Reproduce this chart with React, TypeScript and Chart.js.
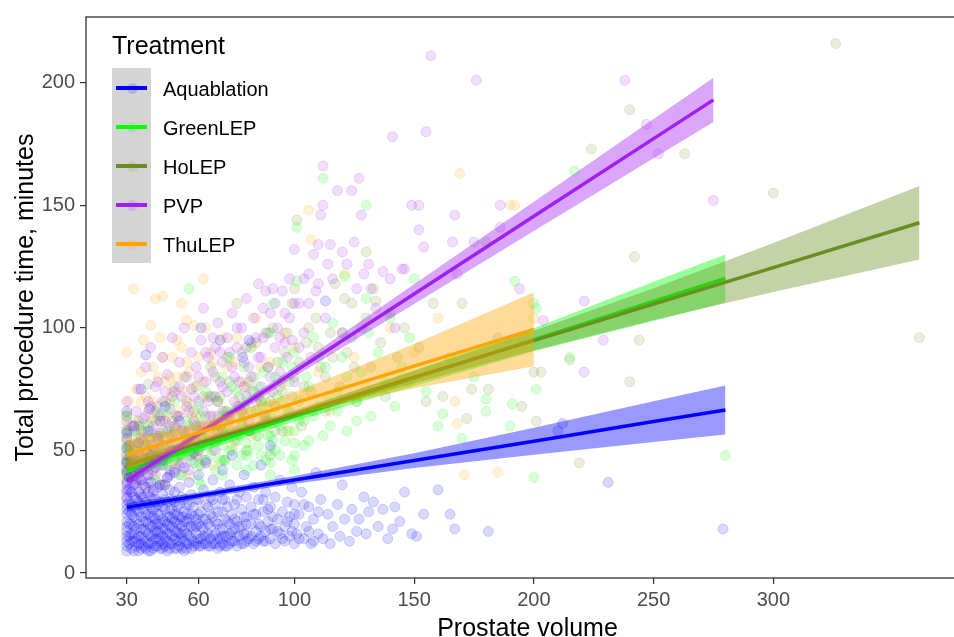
import React, { useEffect, useRef } from "react";
import { Chart, registerables } from "chart.js";
Chart.register(...registerables);

const treatments = ["Aquablation", "GreenLEP", "HoLEP", "PVP", "ThuLEP"];
const lineColors = ["#0000FF", "#00FF00", "#6B8E23", "#A020F0", "#FFA500"];
const rgbs = ["0,0,255", "0,255,0", "107,142,35", "160,32,240", "255,165,0"];

const xTicks = [30, 60, 100, 150, 200, 250, 300];
const yTicks = [0, 50, 100, 150, 200];

const aquablationPoints = [
  [30,9],[30,11],[30,13],[30,15],[30,17],[30,19],[30,21],[30,24],[30,26],[30,28],[30,31],[30,34],[30,37],[30,41],[30,45],[30,51],[30,57],[30,66],
  [31,12],[31,20],[31,29],[31,39],[32,10],[32,16],[32,24],[32,33],[32,47],[33,13],[33,19],[33,27],[33,36],[33,60],[34,11],[34,22],[34,30],[34,43],[35,9],[35,15],[35,25],[35,33],[35,53],[36,12],[36,18],[36,28],[36,38],[36,75],[37,14],[37,21],[37,31],[37,44],[38,10],[38,17],[38,24],[38,35],[38,89],[39,12],[39,20],[39,28],[39,40],[39,58],[39.5,67],[40,9],[40,15],[40,23],[40,31],[40,37],[40,48],
  [41,13],[41,19],[41,26],[41,34],[42,11],[42,17],[42,22],[42,30],[42,43],[43,14],[43,20],[43,28],[43,55],[44,10],[44,16],[44,24],[44,36],[44,62],[45,12],[45,18],[45,27],[45,32],[45,46],[46,14],[46,21],[46,30],[46,68],[47,9],[47,16],[47,23],[47,39],[48,12],[48,19],[48,26],[48,34],[49,15],[49,22],[49,30],[49,50],[50,10],[50,17],[50,24],[50,29],[50,41],
  [51,13],[51,20],[51,27],[52,11],[52,16],[52,23],[52,35],[52,62],[53,14],[53,19],[53,31],[54,9],[54,17],[54,25],[54,43],[55,12],[55,21],[55,28],[56,15],[56,19],[56,37],[57,10],[57,24],[57,32],[58,13],[58,18],[58,27],[58,49],[59,16],[59,22],[60,11],[60,20],[60,30],[60,40],[61,100],
  [61,14],[61,25],[62,12],[62,18],[62,34],[63,15],[63,22],[63,45],[64,11],[64,27],[65,14],[65,19],[65,31],[66,12],[66,23],[66,38],[67,16],[67,28],[68,10],[68,20],[68,55],[69,14],[69,33],[69,95],[70,12],[70,18],[70,25],[70,42],
  [71,15],[71,30],[72,11],[72,21],[73,16],[73,36],[74,13],[74,24],[74,48],[75,18],[75,28],[76,11],[76,21],[77,15],[77,33],[78,19],[78,26],[78.5,88],[79,12],[79,40],[80,16],[80,23],[80,31],[81,14],[81,58],[81,95],[82,20],[82,27],[83,12],[83,35],[84,17],[84,24],[85,14],[85,30],[86,19],[86,44],[87,13],[87,25],[88,17],[88,33],[89,21],[90,14],[90,27],[90,52],[91,18],[92,12],[92,31],[93,22],[94,16],[94,38],[95,25],[96,13],[96,19],[97,29],[98,15],[98,23],[99,35],[100,12],[100,20],[100,28],
  [101,16],[102,24],[103,33],[104,14],[105,19],[106,27],[107,12],[108,22],[109,41],[110,16],[111,30],[112,14],[113,111],[114,24],[115,12],[116,19],[118,28],[119,15],[120,36],[121,22],[123,13],[124,26],[126,17],[127,22],[129,31],[130,16],[131,25],[133,29],[135,19],[137,26],[139,14],[141,18],[142,27],[144,21],[146,33],[149,16],[151,15],[154,24],[160,34],[165,24],[167,18],[181,17],[210,58],[212,61],[231,37],[279,18],
  [31,15],[31,25],[31,34],[32,13],[32,20],[32,28],[33,9],[33,16],[33,23],[33,31],[34,14],[34,18],[34,26],[34,37],[35,12],[35,20],[35,29],[35,41],[36,10],[36,15],[36,23],[36,32],[37,11],[37,18],[37,26],[37,36],[38,13],[38,21],[38,29],[39,9],[39,16],[39,24],[39,33],[40,12],[40,19],[40,27],[41,10],[41,16],[41,23],[41,30],[42,14],[42,20],[42,27],[43,11],[43,17],[43,24],[43,35],[44,13],[44,20],[44,29],[45,10],[45,15],[45,22],[46,11],[46,18],[46,26],[46,36],[47,13],[47,20],[47,29],[48,10],[48,16],[48,23],[48,40],[49,12],[49,19],[49,26],[50,14],[50,21],[50,33],
  [51,10],[51,17],[51,24],[52,13],[52,20],[52,28],[53,10],[53,16],[53,23],[54,13],[54,21],[54,30],[55,10],[55,16],[55,24],[56,12],[56,22],[56,28],[57,14],[57,19],[58,11],[58,23],[59,12],[59,19],[59,30],[60,14],[60,24],[61,11],[61,19],[62,15],[62,22],[63,12],[63,28],[64,16],[64,20],[65,11],[65,24],[66,15],[66,30],[67,12],[67,21],[68,14],[68,25],[69,11],[69,18],[70,15],[70,30],
  [71,11],[71,22],[72,15],[72,27],[73,12],[73,20],[74,17],[75,13],[75,22],[76,15],[76,30],[77,19],[78,12],[79,16],[79,23],[80,13],[80,20],[82,15],[83,24],[84,13],[85,20],[86,15],[87,30],[88,13],[89,26],[90,18],[91,23],[93,17],[95,14],[97,21],[99,17],[100,24],[102,14],[104,28],[106,17],[108,13],[110,25]
];

const greenLEPPoints = [
  [30,40],[30,46],[30,52],[30,58],[30,64],[31,44],[33,50],[35,42],[36,60],[38,47],[40,55],[42,38],[43,65],[45,50],[47,44],[48,58],[50,70],[52,48],[53,40],[55,62],[56,116],[57,52],[58,45],
  [60,38],[60,44],[60,50],[60,56],[60,68],[61,36],[62,55],[63,74],[65,48],[66,60],[67,42],[68,70],
  [70,40],[70,46],[70,52],[70,58],[70,64],[70,80],[71,46],[72,58],[73,88],[74,50],[75,66],[76,44],[76,74],[77,56],[78,62],[79,84],
  [80,42],[80,48],[80,53],[80,59],[80,70],[81,58],[82,92],[83,44],[84,66],[85,76],[85,52],[86,60],[87,82],[88,46],[88,70],[89,56],
  [90,40],[90,45],[90,50],[90,56],[90,64],[90,98],[91,110],[92,50],[93,72],[94,60],[95,86],[96,54],[97,66],[98,78],[99,46],
  [100,42],[100,48],[100,53],[100,58],[100,90],[101,119],[101,141],[102,70],[104,62],[105,80],[106,54],[108,96],[110,68],[112,161],[113,84],[115,60],[116,102],[118,74],[120,88],[121,121],[122,58],[124,96],[126,70],[128,82],[130,150],[130,112],[132,64],[135,90],[138,78],[140,104],[142,68],[145,84],[148,96],[150,120],
  [155,74],[160,60],[162,65],[165,88],[170,55],[175,80],[180,66],[180,71],[190,60],[191,69],[192,119],[200,39],[200,110],[201,75],[201,108],[215,88],[217,164],[280,48],
  [31,50],[32,46],[34,56],[36,44],[37,52],[39,60],[41,48],[44,56],[46,44],[47,66],[49,52],[51,46],[54,56],[56,48],[58,60],[61,64],[62,46],[64,52],[66,72],[67,54],[69,46],[72,66],[73,50],[74,76],[76,54],[78,48],[79,68],[81,50],[82,74],[84,56],[86,48],[87,68],[89,62],[91,54],[92,80],[94,48],[95,70],[97,58],[99,84],[102,62],[104,52],[106,76],[108,64],[110,88],[112,56],[114,72],[118,66],[122,80],[126,62],[131,98]
];

const hoLEPPoints = [
  [30,38],[30,46],[30,54],[30,64],[31,42],[33,48],[35,40],[36,58],[38,52],[39,77],[40,44],[42,62],[44,50],[45,36],[46,70],[48,56],[50,46],[51,64],[52,40],[54,80],[55,54],[57,48],[58,66],[60,60],[61,44],[62,72],[64,56],
  [66,50],[67,80],[68,64],[70,58],[71,46],[72,88],[73,62],[75,54],[76,110],[77,72],[78,60],[80,50],[81,78],[82,66],[84,94],[85,56],[86,70],[88,62],[89,84],[90,48],[91,100],[92,68],[94,76],[95,58],[96,90],[98,66],[99,110],[100,116],[100,80],
  [101,144],[103,60],[105,94],[107,74],[109,104],[111,84],[113,66],[115,98],[117,118],[119,76],[121,112],[122,90],[124,110],[126,70],[128,100],[130,131],[132,84],[133,116],[134,111],[136,94],[138,72],[140,106],[143,88],[146,100],[148,78],[152,92],[155,70],[158,110],
  [162,72],[170,110],[172,63],[174,75],[180,135],[181,75],[185,96],[195,68],[200,82],[203,82],[201,62],[215,87],[219,45],[224,173],[240,78],[240,189],[242,129],[244,95],[263,171],[300,155],[326,216],[361,96],
  [30,42],[30,50],[31,58],[32,44],[34,52],[35,62],[37,46],[39,56],[41,50],[43,68],[45,58],[47,48],[49,62],[50,76],[52,58],[53,48],[55,70],[56,60],[58,52],[59,76],[61,56],[63,64],[65,84],[66,60],[68,54],[69,72],[71,66],[73,78],[74,58],[76,68],[78,90],[79,64],[81,58],[83,80],[85,72],[87,64],[88,98],[90,70],[92,58],[93,86],[95,74],[97,98],[99,72],[102,86],[104,76],[106,100],[108,66],[110,92],[113,80],[116,88],[120,98],[125,84],[130,104]
];

const pvpPoints = [
  [30,30],[30,36],[30,42],[30,48],[30,55],[30,62],[30,70],[31,39],[31,52],
  [32,33],[32,45],[33,58],[33,40],[34,36],[34,66],[35,48],[35,75],[36,31],[36,55],[37,42],[37,63],[38,50],[38,84],[39,37],[39,70],[40,45],[40,58],[40,92],[41,33],[41,52],[42,66],[42,40],[43,48],[43,78],[44,57],[44,36],[45,44],[45,70],[45,88],[46,52],[46,62],[47,39],[47,81],[48,48],[48,67],[49,56],[49,96],[50,42],[50,74],[50,60],
  [51,50],[52,64],[52,86],[53,45],[53,72],[54,58],[54,100],[55,52],[55,80],[56,66],[56,42],[57,75],[57,90],[58,55],[58,62],[59,48],[59,84],[60,70],[60,58],[61,95],[61,52],[62,66],[62,108],[63,78],[63,46],[64,60],[64,88],[65,72],[65,54],[66,82],[66,64],[67,92],[67,50],[68,70],[68,102],[69,60],[69,78],[70,86],[70,66],
  [71,56],[72,74],[72,96],[73,64],[74,84],[74,106],[75,70],[76,58],[76,92],[77,78],[78,100],[78,66],[79,86],[80,72],[80,112],[81,62],[82,94],[82,80],[83,104],[84,70],[85,88],[85,118],[86,76],[87,96],[88,115],[88,64],[89,84],[90,106],[91,116],[91,74],[92,92],[93,100],[94,82],[95,115],[96,106],[97,88],[98,120],[99,95],[100,132],[100,78],
  [102,110],[104,98],[106,122],[107,88],[109,115],[110,134],[111,146],[112,150],[112,166],[113,104],[114,126],[115,134],[116,120],[118,156],[120,131],[120,98],[122,126],[124,156],[125,135],[126,116],[127,161],[128,146],[129,122],[131,126],[132,116],[134,108],[137,123],[140,120],[141,178],[142,100],[145,124],[146,124],[149,150],[152,150],[152,140],[155,180],[154,133],
  [157,211],[166,135],[167,146],[168,122],[175,135],[176,201],[186,150],[186,141],[194,116],[204,103],[221,111],[221,82],[229,95],[238,201],[247,183],[252,171],[275,152],
  [30,33],[30,45],[30,58],[31,47],[32,40],[32,60],[33,52],[34,44],[35,38],[35,60],[36,48],[37,54],[38,40],[38,64],[39,46],[40,52],[40,68],[41,42],[41,60],[42,50],[42,76],[43,56],[44,44],[44,64],[45,52],[46,46],[46,74],[47,58],[48,42],[48,60],[49,50],[49,72],[50,54],[51,64],[52,44],[52,76],[53,58],[54,50],[55,68],[56,58],[57,46],[58,72],[59,60],[60,50],[60,80],[62,60],[63,90],[64,70],[65,64],[66,96],[67,72],[68,58],[69,90],[70,76],[72,64],[73,90],[75,80],[76,100],[77,68],[79,76],[80,92],[81,84],[83,74],[84,96],[86,88],[87,108],[89,98],[90,80],[92,110],[94,96],[96,94],[98,104],[100,110],[102,92],[104,120],[106,110],[108,130],[110,118]
];

const thuLEPPoints = [
  [30,40],[30,48],[30,55],[30,65],[30,90],[31,44],[31,52],
  [33,116],[33,60],[34,75],[34,38],[35,50],[36,70],[36,44],[37,95],[37,58],[38,35],[39,66],[40,48],[41,70],[40,101],[41,40],[42,112],[42,56],[43,80],[44,46],[45,62],[45,88],[45,113],[46,36],[47,54],[48,80],[48,70],[49,88],[50,44],[51,95],[51,60],[52,50],[53,110],[54,74],[55,86],[55,103],[56,40],[56,69],[57,56],[58,101],[59,64],[60,48],[62,120],[62,78],
  [64,58],[65,90],[66,44],[68,70],[70,62],[72,84],[74,52],[76,96],[78,66],[80,76],[82,56],[84,104],[86,70],[88,60],[90,86],[92,68],[95,78],[98,58],[100,92],[104,72],[106,148],[107,136],[110,82],
  [115,66],[121,122],[125,88],[130,76],[140,100],[145,80],[150,90],[160,104],[167,70],[168,61],[169,163],[171,40],[185,41],[190,150],[192,150],[200,104],
  [30,44],[30,60],[31,70],[32,52],[33,46],[34,62],[35,56],[36,82],[37,48],[38,72],[39,54],[40,62],[41,84],[42,46],[43,64],[44,96],[45,54],[46,78],[47,64],[48,50],[49,74],[50,58],[51,80],[52,66],[53,92],[54,52],[56,82],[57,64],[58,76],[60,88],[61,60],[63,100],[64,72],[66,86],[68,58],[70,96],[72,66],[75,86],[78,78],[82,92],[86,84],[90,74],[96,98]
];

// fitted lines and 95% bands
const aquablationFitX = [30, 60, 100, 150, 200, 250, 280];
const aquablationFit = [26.8, 31.6, 38, 45.9, 53.8, 61.8, 66.5];
const aquablationLower = [25.0, 30.3, 36.4, 42.9, 48.3, 53.5, 56.5];
const aquablationUpper = [28.6, 32.9, 39.6, 48.9, 59.3, 70.1, 76.5];

const greenLEPFitX = [30, 60, 100, 150, 200, 250, 280];
const greenLEPFit = [41.8, 51.2, 63.8, 79.5, 95.2, 110.8, 120.2];
const greenLEPLower = [38.3, 49.2, 61.8, 76.3, 90.5, 102.8, 110.5];
const greenLEPUpper = [45.3, 53.2, 65.8, 82.7, 99.9, 118.8, 129.9];

const hoLEPFitX = [30, 60, 100, 150, 200, 250, 300, 361];
const hoLEPFit = [44, 53, 64.9, 79.9, 94.8, 109.7, 124.6, 142.9];
const hoLEPLower = [41.5, 51.5, 63.4, 77.4, 90.8, 103.2, 114.6, 127.9];
const hoLEPUpper = [46.5, 54.5, 66.4, 82.4, 98.8, 116.2, 134.6, 157.9];

const pvpFitX = [30, 60, 100, 150, 200, 250, 275];
const pvpFit = [37.7, 56.7, 82.1, 113.8, 145.5, 177.2, 193];
const pvpLower = [35.2, 55.2, 80.1, 109.8, 139.5, 169.2, 184];
const pvpUpper = [40.2, 58.2, 84.1, 117.8, 151.5, 185.2, 202];

const thuLEPFitX = [30, 60, 100, 150, 200];
const thuLEPFit = [48.3, 57.3, 69.3, 84.4, 99.4];
const thuLEPLower = [42.3, 53.8, 64.8, 75.4, 84.4];
const thuLEPUpper = [54.3, 60.8, 73.8, 93.4, 114.4];

const groupPoints = [aquablationPoints, greenLEPPoints, hoLEPPoints, pvpPoints, thuLEPPoints];
const groupFitX = [aquablationFitX, greenLEPFitX, hoLEPFitX, pvpFitX, thuLEPFitX];
const groupFit = [aquablationFit, greenLEPFit, hoLEPFit, pvpFit, thuLEPFit];
const groupLower = [aquablationLower, greenLEPLower, hoLEPLower, pvpLower, thuLEPLower];
const groupUpper = [aquablationUpper, greenLEPUpper, hoLEPUpper, pvpUpper, thuLEPUpper];

const FONT = '"Liberation Sans", Arial, Helvetica, sans-serif';

const panelBorder = {
  id: "panelBorder",
  afterDraw(chart: any) {
    const { ctx, chartArea } = chart;
    const { left, top, right, bottom } = chartArea;
    ctx.save();
    ctx.strokeStyle = "#333333";
    ctx.lineWidth = 1.3;
    ctx.strokeRect(left, top, right - left, bottom - top);
    ctx.restore();
  },
};

export default function App() {
  const ref = useRef<HTMLCanvasElement | null>(null);

  useEffect(() => {
    if (!ref.current) return;
    const datasets: any[] = [];
    treatments.forEach((t, g) => {
      datasets.push({
        type: "line",
        label: t,
        data: groupPoints[g].map(([x, y]) => ({ x, y })),
        showLine: false,
        pointRadius: 5,
        pointHoverRadius: 5,
        pointBackgroundColor: `rgba(${rgbs[g]},0.15)`,
        pointBorderColor: `rgba(${rgbs[g]},0.16)`,
        pointBorderWidth: 1,
        order: 100,
      });
    });
    treatments.forEach((t, g) => {
      const xs = groupFitX[g];
      const lowerIndex = datasets.length;
      datasets.push({
        type: "line",
        label: t + " lower",
        data: xs.map((x, i) => ({ x, y: groupLower[g][i] })),
        pointRadius: 0,
        borderColor: "rgba(0,0,0,0)",
        borderWidth: 1,
        fill: false,
        tension: 0,
        order: 20 - 2 * g,
      });
      datasets.push({
        type: "line",
        label: t + " upper",
        data: xs.map((x, i) => ({ x, y: groupUpper[g][i] })),
        pointRadius: 0,
        borderColor: "rgba(0,0,0,0)",
        borderWidth: 1,
        backgroundColor: `rgba(${rgbs[g]},0.4)`,
        fill: lowerIndex,
        tension: 0,
        order: 20 - 2 * g,
      });
      datasets.push({
        type: "line",
        label: t + " fit",
        data: xs.map((x, i) => ({ x, y: groupFit[g][i] })),
        pointRadius: 0,
        borderColor: lineColors[g],
        borderWidth: 3.5,
        fill: false,
        tension: 0,
        order: 19 - 2 * g,
      });
    });

    const chart = new Chart(ref.current, {
      type: "line",
      data: { datasets },
      plugins: [panelBorder],
      options: {
        responsive: false,
        animation: false,
        events: [],
        layout: { padding: { top: 14, left: 0, right: 0, bottom: 0 } },
        plugins: {
          legend: { display: false },
          tooltip: { enabled: false },
        },
        scales: {
          x: {
            type: "linear",
            min: 13,
            max: 381.7,
            afterBuildTicks: (s: any) => {
              s.ticks = xTicks.map((v) => ({ value: v }));
            },
            afterFit: (s: any) => {
              s.height = 59;
            },
            grid: {
              display: true,
              drawOnChartArea: false,
              drawTicks: true,
              tickLength: 6,
              color: "#333333",
              lineWidth: 1.2,
            },
            border: { display: false },
            ticks: {
              color: "#4D4D4D",
              font: { family: FONT, size: 20 },
              padding: 4,
              maxRotation: 0,
              autoSkip: false,
            },
            title: {
              display: true,
              text: "Prostate volume",
              color: "#000000",
              font: { family: FONT, size: 25, lineHeight: 1 },
              padding: { top: 0, bottom: -5 },
            },
          },
          y: {
            type: "linear",
            min: -2,
            max: 226.8,
            afterBuildTicks: (s: any) => {
              s.ticks = yTicks.map((v) => ({ value: v }));
            },
            afterFit: (s: any) => {
              s.width = 86;
            },
            grid: {
              display: true,
              drawOnChartArea: false,
              drawTicks: true,
              tickLength: 6,
              color: "#333333",
              lineWidth: 1.2,
            },
            border: { display: false },
            ticks: {
              color: "#4D4D4D",
              font: { family: FONT, size: 20 },
              padding: 5,
            },
            title: {
              display: true,
              text: "Total procedure time, minutes",
              color: "#000000",
              font: { family: FONT, size: 25, lineHeight: 1 },
              padding: { top: 14, bottom: 0 },
            },
          },
        },
      } as any,
    });
    return () => chart.destroy();
  }, []);

  const legendTop = 68;
  const step = 39;
  return (
    <div
      style={{
        position: "absolute",
        left: 0,
        top: 0,
        width: 954,
        height: 637,
        overflow: "hidden",
        background: "#ffffff",
      }}
    >
      <canvas ref={ref} width={975} height={637} style={{ width: 975, height: 637, display: "block" }} />
      <div
        style={{
          position: "absolute",
          left: 112,
          top: 32.5,
          fontFamily: FONT,
          fontSize: 25,
          lineHeight: "25px",
          color: "#000",
          whiteSpace: "nowrap",
        }}
      >
        Treatment
      </div>
      <div
        style={{
          position: "absolute",
          left: 112,
          top: legendTop,
          width: 39,
          height: 195,
          background: "#D4D4D4",
        }}
      />
      {treatments.map((t, i) => (
        <React.Fragment key={t}>
          <div
            style={{
              position: "absolute",
              left: 126.5,
              top: 88 + step * i - 5.5,
              width: 11,
              height: 11,
              borderRadius: "50%",
              background: `rgba(${rgbs[i]},0.15)`,
            }}
          />
          <div
            style={{
              position: "absolute",
              left: 116,
              top: 88 + step * i - 2,
              width: 31,
              height: 4,
              background: lineColors[i],
            }}
          />
          <div
            style={{
              position: "absolute",
              left: 163,
              top: 79 + step * i,
              fontFamily: FONT,
              fontSize: 20,
              lineHeight: "20px",
              color: "#000",
              whiteSpace: "nowrap",
            }}
          >
            {t}
          </div>
        </React.Fragment>
      ))}
    </div>
  );
}
